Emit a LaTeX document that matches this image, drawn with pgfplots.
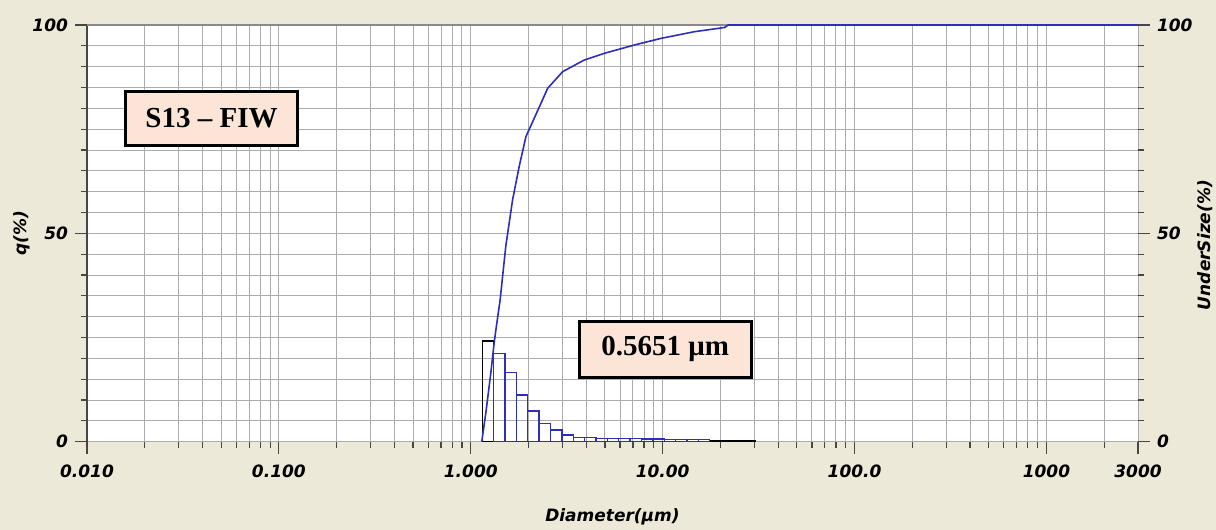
\documentclass[border=0pt]{standalone}
\usepackage{pgfplots}
\pgfplotsset{compat=1.18}
\usepackage{fontspec}
\setmainfont{Liberation Serif}
\newfontfamily\dv{DejaVu Sans}
\definecolor{bg}{RGB}{236,233,216}
\definecolor{gridc}{RGB}{172,172,172}
\definecolor{peach}{RGB}{252,229,214}
\definecolor{cblue}{RGB}{45,45,190}
\definecolor{axc}{RGB}{70,70,70}
\newcommand{\tf}{\dv\bfseries\itshape\fontsize{8.5}{10}\selectfont}

\pgfplotstableread{
d q
1.148 24.2
1.316 21.2
1.509 16.6
1.729 11.2
1.982 7.4
2.272 4.4
2.604 2.8
2.985 1.6
3.421 1.0
3.922 1.0
4.495 0.7
5.152 0.7
5.906 0.7
6.769 0.7
7.759 0.65
8.893 0.65
10.19 0.6
11.68 0.6
13.39 0.6
15.35 0.6
17.60 0.3
20.17 0.3
23.12 0.3
26.50 0.3
30.37 0.3
}\hist

\pgfplotstableread{
d q
1.316 21.2
1.509 16.6
1.729 11.2
1.982 7.4
2.272 4.4
2.604 2.8
2.985 1.6
3.421 1.0
3.922 1.0
4.495 0.7
5.152 0.7
5.906 0.7
6.769 0.7
7.759 0.65
8.893 0.65
10.19 0.6
11.68 0.6
13.39 0.6
15.35 0.6
17.60 0.6
}\histblue

\pgfplotstableread{
d u
1.141 0
1.198 6.9
1.272 16.5
1.323 23.6
1.351 26.8
1.422 34
1.523 47
1.651 58
1.787 66
1.938 73.2
2.321 81.2
2.515 84.8
3.012 88.8
3.905 91.6
4.967 93.2
7.124 95.2
9.822 96.8
14.66 98.4
21.02 99.4
21.98 100
3000 100
}\cum

\begin{document}
\begin{tikzpicture}
\fill[bg] (-43.5pt,-44.15pt) rectangle (564.5pt,220.85pt);
\useasboundingbox (-43.5pt,-44.15pt) rectangle (564.5pt,220.85pt);
\begin{axis}[
  scale only axis, width=525.5pt, height=208.35pt,
  xmode=log, xmin=0.01, xmax=3000, ymin=0, ymax=100,
  axis background/.style={fill=white},
  axis line style={draw=none},
  tick align=outside, tick pos=left,
  major tick length=6pt, minor tick length=3pt,
  tick style={axc, line width=0.6pt},
  xtick={0.01,0.1,1,10,100,1000,3000},
  xticklabels={0.010,0.100,1.000,10.00,100.0,1000,3000},
  minor xtick={0.02,0.03,0.04,0.05,0.06,0.07,0.08,0.09,
    0.2,0.3,0.4,0.5,0.6,0.7,0.8,0.9,
    2,3,4,5,6,7,8,9,
    20,30,40,50,60,70,80,90,
    200,300,400,500,600,700,800,900,2000},
  ytick={0,50,100},
  yticklabels={0,50,100},
  minor ytick={5,10,...,95},
  grid=both,
  major grid style={gridc, line width=0.5pt},
  minor grid style={gridc, line width=0.5pt},
  ticklabel style={font=\tf},
  xticklabel style={yshift=-2pt},
  xlabel={Diameter(µm)},
  ylabel={q(\%)},
  every axis x label/.style={at={(axis description cs:0.5,-0.1807)},anchor=center,font=\tf},
  every axis y label/.style={at={(axis description cs:-0.0618,0.5)},anchor=center,rotate=90,font=\tf},
  clip=false,
]
\draw[axc, line width=0.7pt] (rel axis cs:0,0) -- (rel axis cs:0,1);
\draw[gridc!80!black, line width=0.6pt] (rel axis cs:0,1) -- (rel axis cs:1,1);
\addplot[ybar interval, draw=black, fill=none, line width=0.7pt] table[x=d,y=q] {\hist};
\addplot[ybar interval, draw=cblue, fill=none, line width=0.7pt] table[x=d,y=q] {\histblue};
\addplot[cblue, line width=0.8pt, mark=none] table[x=d,y=u] {\cum};
\node[draw=black, line width=1.5pt, fill=peach, minimum width=86pt, minimum height=27pt,
  font=\bfseries\fontsize{14.5}{16}\selectfont] at (rel axis cs:0.1185,0.7768) {S13 – FIW};
\node[draw=black, line width=1.5pt, fill=peach, minimum width=86pt, minimum height=28pt,
  font=\bfseries\fontsize{14.5}{16}\selectfont] at (rel axis cs:0.5502,0.222) {0.5651 μm};
\end{axis}
\begin{axis}[
  scale only axis, width=525.5pt, height=208.35pt,
  xmode=log, xmin=0.01, xmax=3000, ymin=0, ymax=100,
  axis line style={draw=none},
  xtick=\empty,
  ytick={0,50,100},
  yticklabels={0,50,100},
  minor ytick={5,10,...,95},
  ytick pos=right, yticklabel pos=right,
  tick align=outside,
  major tick length=6pt, minor tick length=3pt,
  tick style={axc, line width=0.6pt},
  ticklabel style={font=\tf},
  ylabel={UnderSize(\%)},
  every axis y label/.style={at={(axis description cs:1.0637,0.472)},anchor=center,rotate=90,font=\tf},
]
\end{axis}
\end{tikzpicture}
\end{document}
